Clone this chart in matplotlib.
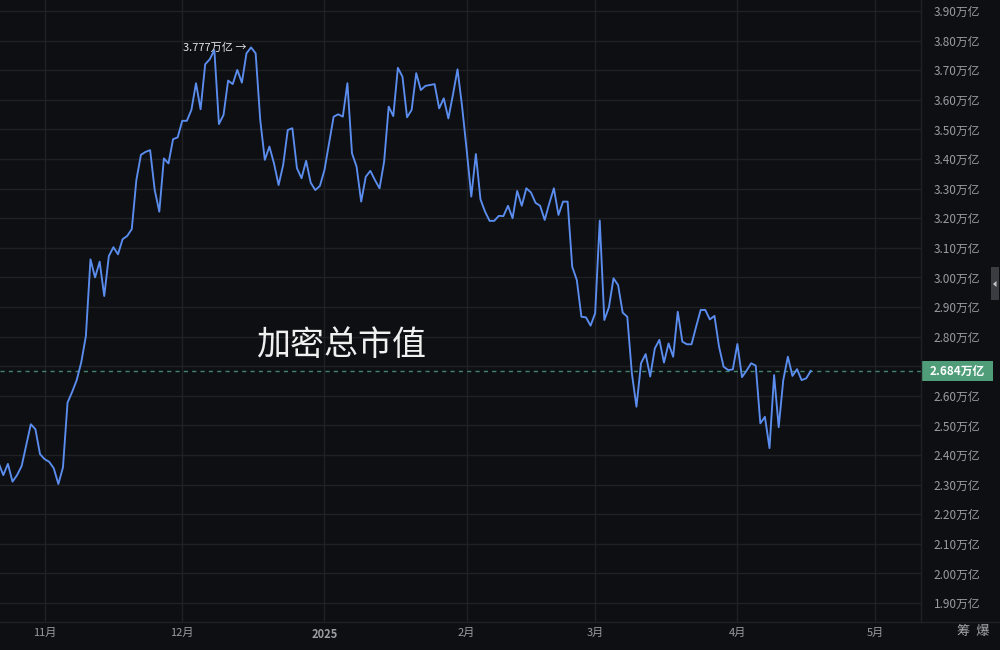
import matplotlib
matplotlib.use("Agg")
import matplotlib.pyplot as plt
import matplotlib.dates as mdates
from matplotlib.patches import Rectangle, Polygon
import numpy as np
import pandas as pd

plt.rcParams['font.family'] = ['Noto Sans CJK SC', 'DejaVu Sans']

# ---- data (万亿 USD), daily closes ----
start_date = "2024-10-22"
values_oct = [2.372, 2.332, 2.370, 2.310, 2.332, 2.363, 2.434, 2.504, 2.487, 2.403]
values_nov = [2.386, 2.377, 2.355, 2.302, 2.358, 2.577, 2.613, 2.653, 2.714, 2.802,
              3.061, 3.000, 3.053, 2.937, 3.072, 3.102, 3.078, 3.129, 3.140, 3.163,
              3.329, 3.414, 3.424, 3.430, 3.295, 3.222, 3.402, 3.385, 3.467, 3.473]
values_dec = [3.529, 3.529, 3.566, 3.656, 3.568, 3.720, 3.737, 3.768, 3.518, 3.549,
              3.665, 3.653, 3.701, 3.658, 3.757, 3.777, 3.757, 3.532, 3.397, 3.442,
              3.385, 3.312, 3.380, 3.498, 3.504, 3.369, 3.335, 3.394, 3.320, 3.295,
              3.309]
values_jan = [3.363, 3.453, 3.543, 3.551, 3.543, 3.656, 3.419, 3.374, 3.256, 3.340,
              3.360, 3.329, 3.301, 3.391, 3.577, 3.545, 3.708, 3.678, 3.541, 3.566,
              3.690, 3.633, 3.647, 3.650, 3.653, 3.571, 3.605, 3.537, 3.617, 3.703,
              3.577]
values_feb = [3.430, 3.273, 3.417, 3.264, 3.222, 3.191, 3.191, 3.208, 3.207, 3.242,
              3.200, 3.292, 3.242, 3.301, 3.287, 3.252, 3.242, 3.194, 3.250, 3.301,
              3.211, 3.256, 3.256, 3.036, 2.991, 2.867, 2.865, 2.837]
values_mar = [2.879, 3.192, 2.856, 2.899, 2.997, 2.974, 2.881, 2.867, 2.676, 2.563,
              2.710, 2.741, 2.665, 2.760, 2.789, 2.712, 2.777, 2.732, 2.884, 2.783,
              2.774, 2.774, 2.833, 2.890, 2.890, 2.858, 2.870, 2.766, 2.698, 2.687,
              2.689]
values_apr = [2.775, 2.663, 2.685, 2.710, 2.702, 2.507, 2.529, 2.423, 2.670, 2.494,
              2.653, 2.732, 2.667, 2.690, 2.653, 2.659, 2.684]

month_ticks = ["2024-11-01", "2024-12-01", "2025-01-01", "2025-02-01",
               "2025-03-01", "2025-04-01", "2025-05-01"]
month_labels = ["11月", "12月", "2025", "2月", "3月", "4月", "5月"]
y_ticks = [1.90, 2.00, 2.10, 2.20, 2.30, 2.40, 2.50, 2.60, 2.70, 2.80, 2.90,
           3.00, 3.10, 3.20, 3.30, 3.40, 3.50, 3.60, 3.70, 3.80, 3.90]
y_tick_shown = [v for v in y_ticks if abs(v - 2.70) > 1e-6]
peak_label = "3.777万亿"
last_label = "2.684万亿"
title = "加密总市值"
watermark = "筹  爆"

values = values_oct + values_nov + values_dec + values_jan + values_feb + values_mar + values_apr
dates = pd.date_range(start_date, periods=len(values), freq="D")

# ---- style ----
BG = "#0e0f12"
GRID = "#1f2125"
LINE = "#5b8def"
TXT = "#9a9ca3"
GREEN = "#4f9d79"

fig = plt.figure(figsize=(10, 6.5), dpi=100, facecolor=BG)
ax = fig.add_axes([0, 28 / 650, 921 / 1000, 622 / 650])
ax.set_facecolor(BG)

x0 = mdates.date2num(pd.Timestamp("2024-11-01")) - 44.6 / 4.588
x1 = x0 + 921 / 4.588
ax.set_xlim(x0, x1)
ax.set_ylim(3.90 - 611 / 296, 3.90 + 11 / 296)

for s in ax.spines.values():
    s.set_visible(False)

tick_dates = [mdates.date2num(pd.Timestamp(d)) for d in month_ticks]
for t in tick_dates:
    ax.axvline(t, color=GRID, lw=1, zorder=0)
for v in y_ticks:
    ax.axhline(v, color=GRID, lw=1, zorder=0)

ax.set_xticks(tick_dates)
ax.set_xticklabels(month_labels)
for lbl in ax.get_xticklabels():
    if lbl.get_text() == "2025":
        lbl.set_fontweight("bold")
        lbl.set_color("#b8bac0")
ax.tick_params(axis="x", length=0, pad=4, labelsize=8, labelcolor=TXT)

ax.yaxis.tick_right()
ax.set_yticks(y_tick_shown)
ax.set_yticklabels([f"{v:.2f}万亿" for v in y_tick_shown])
ax.tick_params(axis="y", length=0, pad=9, labelsize=8.5, labelcolor=TXT)

# plot-area right border and bottom border
fig.add_artist(plt.Line2D([921 / 1000, 921 / 1000], [28 / 650, 1], color=GRID, lw=1))
fig.add_artist(plt.Line2D([0, 1], [28 / 650, 28 / 650], color=GRID, lw=1))

ax.plot(dates, values, color=LINE, lw=1.35, zorder=3)

last = values[-1]
ax.axhline(last, color="#41846a", lw=1, ls=(0, (3, 3)), zorder=2)

# last-value badge
yfig = 28 / 650 + (last - ax.get_ylim()[0]) / (ax.get_ylim()[1] - ax.get_ylim()[0]) * 622 / 650
fig.add_artist(Rectangle((921 / 1000, yfig - 10 / 650), 72 / 1000, 20 / 650,
                         facecolor=GREEN, edgecolor="none"))
fig.text(957 / 1000, yfig, last_label, color="white", fontsize=8.5, fontweight="bold",
         ha="center", va="center")

# peak annotation
imax = int(np.argmax(values))
ax.annotate(peak_label + " →", xy=(mdates.date2num(dates[imax]), values[imax]),
            xytext=(-3, 0), textcoords="offset points", ha="right", va="center",
            color="#e6e6e6", fontsize=8, zorder=4)

# title
fig.text(341 / 1000, 1 - 346 / 650, title, color="#f0f0f0", fontsize=24.5,
         ha="center", va="center")

# watermark
fig.text(973 / 1000, 1 - 632 / 650, watermark, color="#a6a8ae", fontsize=9.5,
         ha="center", va="center")

# small side tab
fig.add_artist(Rectangle((991 / 1000, 1 - 300 / 650), 8 / 1000, 33 / 650,
                         facecolor="#3a3c42", edgecolor="none"))
fig.add_artist(Polygon([[993 / 1000, 1 - 284 / 650], [996.5 / 1000, 1 - 281 / 650],
                        [996.5 / 1000, 1 - 287 / 650]], closed=True,
                       facecolor="#c8c8c8", edgecolor="none"))

fig.savefig("out.png", dpi=100, facecolor=BG)
